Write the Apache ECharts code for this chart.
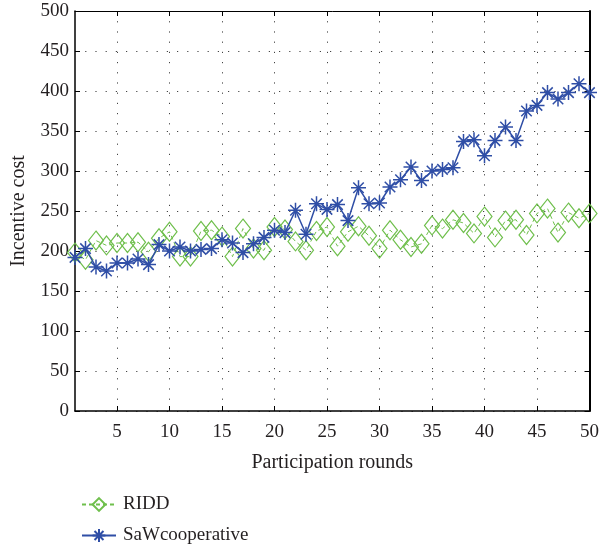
<!DOCTYPE html>
<html>
<head>
<meta charset="utf-8">
<script src="https://cdn.jsdelivr.net/npm/echarts@6/dist/echarts.min.js"></script>
<style>
  html, body { margin: 0; padding: 0; background: #fff; }
  #chart { width: 602px; height: 550px; }
</style>
</head>
<body>
<div id="chart"></div>
<script>
// Participation rounds (x values)
const rounds = [1, 2, 3, 4, 5, 6, 7, 8, 9, 10,
  11, 12, 13, 14, 15, 16, 17, 18, 19, 20,
  21, 22, 23, 24, 25, 26, 27, 28, 29, 30,
  31, 32, 33, 34, 35, 36, 37, 38, 39, 40,
  41, 42, 43, 44, 45, 46, 47, 48, 49, 50];

// Incentive cost per round
const riddCost = [198, 189, 213, 207, 210, 210, 211, 199, 216, 224,
  193, 193, 225, 226, 218, 193, 228, 203, 201, 230,
  227, 212, 201, 225, 230, 206, 224, 231, 219, 203,
  226, 214, 205, 209, 232, 228, 239, 235, 222, 243,
  217, 238, 239, 220, 247, 253, 223, 248, 241, 247];

const sawCost = [192, 203, 180, 175, 185, 185, 190, 183, 208, 200,
  205, 200, 202, 203, 214, 210, 198, 209, 217, 226,
  223, 251, 221, 259, 252, 258, 238, 279, 259, 260,
  280, 289, 305, 288, 300, 302, 304, 337, 339, 319,
  338, 355, 338, 375, 382, 398, 390, 398, 409, 398];

// Tick values
const xTicks = [5, 10, 15, 20, 25, 30, 35, 40, 45, 50];
const yMin = 0, yMax = 500, yStep = 50;
const xMin = 1, xMax = 50;

const seriesNames = ['RIDD', 'SaWcooperative'];

const GREEN = '#6fbf4c';
const BLUE = '#2f4ea6';
const INK = '#231f20';
const FONT = '"Liberation Serif", "DejaVu Serif", serif';

const asterisk = 'path://M10,0 L10,20 M0,10 L20,10 M3,3 L17,17 M3,17 L17,3';

const pair = (xs, ys) => xs.map((x, i) => [x, ys[i]]);

const dotted = { show: true, lineStyle: { color: '#444', width: 1, type: [1.2, 9] } };

const chart = echarts.init(document.getElementById('chart'), null, { renderer: 'canvas' });

chart.setOption({
  backgroundColor: '#fff',
  animation: false,
  textStyle: { fontFamily: FONT, color: INK },
  grid: { left: 75, right: 9, top: 11, bottom: 139, containLabel: false },
  legend: {
    orient: 'vertical',
    left: 76,
    top: 490,
    itemWidth: 34,
    itemHeight: 16,
    itemGap: 12,
    textStyle: { fontFamily: FONT, fontSize: 19, color: INK, padding: [0, 0, 0, 2] },
    data: seriesNames
  },
  xAxis: [{
    type: 'value',
    min: xMin,
    max: xMax,
    name: 'Participation rounds',
    nameLocation: 'middle',
    nameGap: 42,
    nameTextStyle: { fontFamily: FONT, fontSize: 20, color: INK },
    axisLine: { show: true, lineStyle: { color: '#000', width: 1.5 } },
    axisTick: { show: true, inside: true, length: 5, customValues: xTicks, lineStyle: { color: '#000' } },
    axisLabel: { show: true, customValues: xTicks, margin: 12, fontFamily: FONT, fontSize: 19, color: INK },
    splitLine: dotted
  }, {
    type: 'value',
    position: 'top',
    min: xMin,
    max: xMax,
    axisLine: { show: true, onZero: false, lineStyle: { color: '#000', width: 1 } },
    axisTick: { show: true, inside: true, length: 5, customValues: xTicks, lineStyle: { color: '#000' } },
    axisLabel: { show: false },
    splitLine: { show: false }
  }],
  yAxis: [{
    type: 'value',
    min: yMin,
    max: yMax,
    interval: yStep,
    name: 'Incentive cost',
    nameLocation: 'middle',
    nameGap: 46,
    nameTextStyle: { fontFamily: FONT, fontSize: 20, color: INK },
    axisLine: { show: true, lineStyle: { color: '#000', width: 1.5 } },
    axisTick: { show: true, inside: true, length: 5, lineStyle: { color: '#000' } },
    axisLabel: { margin: 6, fontFamily: FONT, fontSize: 19, color: INK },
    splitLine: dotted
  }, {
    type: 'value',
    position: 'right',
    min: yMin,
    max: yMax,
    interval: yStep,
    axisLine: { show: true, onZero: false, lineStyle: { color: '#000', width: 2 } },
    axisTick: { show: true, inside: true, length: 5, lineStyle: { color: '#000' } },
    axisLabel: { show: false },
    splitLine: { show: false }
  }],
  series: [{
    name: seriesNames[0],
    type: 'line',
    data: pair(rounds, riddCost),
    symbol: 'diamond',
    symbolSize: [15, 19],
    showAllSymbol: true,
    z: 2,
    lineStyle: { color: GREEN, width: 1, type: [4, 3] },
    itemStyle: { color: 'rgba(255,255,255,0)', borderColor: GREEN, borderWidth: 1.2 }
  }, {
    name: seriesNames[1],
    type: 'line',
    data: pair(rounds, sawCost),
    symbol: asterisk,
    symbolSize: 15,
    showAllSymbol: true,
    z: 3,
    lineStyle: { color: BLUE, width: 1.5 },
    itemStyle: { color: BLUE, borderColor: BLUE, borderWidth: 1.5 }
  }]
});
</script>
</body>
</html>
